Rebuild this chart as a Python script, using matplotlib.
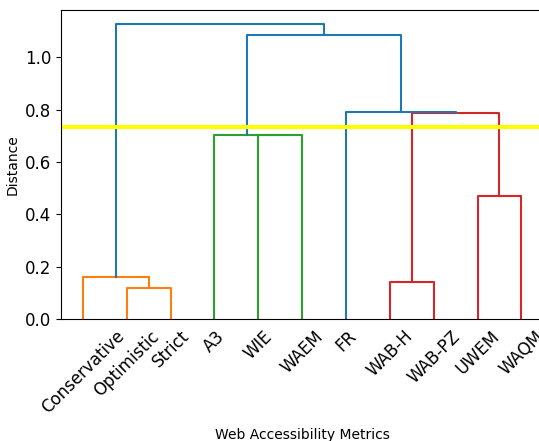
import matplotlib
matplotlib.use("Agg")
import matplotlib.pyplot as plt

# leaves in dendrogram order
labels = ['Conservative', 'Optimistic', 'Strict', 'A3', 'WIE', 'WAEM',
          'FR', 'WAB-H', 'WAB-PZ', 'UWEM', 'WAQM']

# linkage rows (scipy style): ids >= len(labels) point to earlier rows
link_a = [1, 7, 0, 9, 4, 3, 12, 6, 16, 13]
link_b = [2, 8, 11, 10, 5, 15, 14, 17, 18, 19]
link_h = [0.117, 0.142, 0.160, 0.471, 0.703, 0.704, 0.785, 0.790, 1.084, 1.126]
link_c = ['C1', 'C3', 'C1', 'C3', 'C2', 'C2', 'C3', 'C0', 'C0', 'C0']

cut_height = 0.734

n = len(labels)
pos = {i: 5 + 10 * i for i in range(n)}
hgt = {i: 0.0 for i in range(n)}

fig = plt.figure(figsize=(5.39, 4.41), dpi=100)
ax = fig.add_axes([0.113, 0.277, 0.895, 0.70])

for k, (a, b, h, c) in enumerate(zip(link_a, link_b, link_h, link_c)):
    xa, xb = pos[a], pos[b]
    ax.plot([xa, xa, xb, xb], [hgt[a], h, h, hgt[b]], color=c, lw=1.5)
    pos[n + k] = (xa + xb) / 2
    hgt[n + k] = h

ax.axhline(cut_height, color='yellow', lw=3)

ax.set_xlim(0, 10 * n)
ax.set_ylim(0, 1.18)
ax.set_xticks([5 + 10 * i for i in range(n)])
ax.set_xticklabels(labels, rotation=45, fontsize=12)
ax.tick_params(axis='x', length=0, pad=6)
ax.set_yticks([0, 0.2, 0.4, 0.6, 0.8, 1.0])
ax.tick_params(axis='y', labelsize=12)
ax.set_xlabel('Web Accessibility Metrics', labelpad=8)
ax.set_ylabel('Distance')

fig.savefig('out.png', dpi=100)
